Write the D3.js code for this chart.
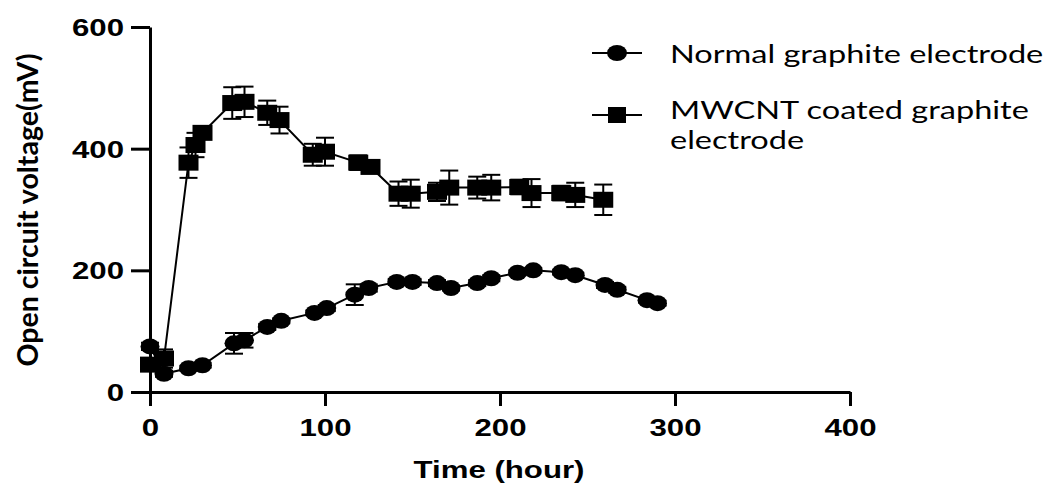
<!DOCTYPE html>
<html>
<head>
<meta charset="utf-8">
<script src="https://cdn.jsdelivr.net/npm/d3@7"></script>
<style>
body { margin: 0; background: #fff; }
</style>
</head>
<body>
<script>
// values
var xTicks = [0, 100, 200, 300, 400];
var yTicks = [0, 200, 400, 600];

var normalTime = [0, 8, 22, 30, 48, 54, 67, 75, 94, 101, 117, 125, 141, 150, 164, 172, 187, 195, 210, 219, 235, 243, 260, 267, 284, 290];
var normalOCV  = [75, 30, 39, 44, 80, 85, 107, 117, 130, 138, 160, 171, 181, 181, 179, 171, 179, 187, 196, 200, 197, 192, 176, 168, 151, 146];
var normalErr  = [6, 5, 4, 4, 17, 12, 5, 4, 4, 5, 17, 6, 5, 5, 5, 4, 5, 5, 4, 4, 4, 4, 5, 5, 4, 4];

var mwcntTime = [0, 8, 22, 26, 30, 47, 54, 67, 74, 93, 100, 119, 126, 142, 149, 164, 171, 187, 195, 211, 218, 235, 243, 259];
var mwcntOCV  = [45, 55, 377, 406, 426, 475, 477, 459, 447, 390, 395, 377, 370, 326, 326, 329, 336, 336, 336, 337, 327, 327, 324, 316];
var mwcntErr  = [10, 15, 25, 20, 8, 26, 25, 20, 22, 18, 23, 12, 10, 20, 23, 15, 28, 18, 21, 12, 23, 12, 20, 25];

var seriesNames = ["Normal graphite electrode", "MWCNT coated graphite electrode"];

var width = 1054, height = 486;
var stretch = 1.3; // the picture is wider than tall, text included
var svg = d3.select("body").append("svg")
    .attr("width", width)
    .attr("height", height)
    .style("font-family", "'Liberation Sans', Arial, sans-serif");

var x = d3.scaleLinear().domain([0, 400]).range([150, 850]);
var y = d3.scaleLinear().domain([0, 600]).range([392, 27]);

function toPoints(t, v, e) {
    return t.map(function(d, i) { return {t: d, v: v[i], e: e[i]}; });
}
var normal = toPoints(normalTime, normalOCV, normalErr);
var mwcnt = toPoints(mwcntTime, mwcntOCV, mwcntErr);

// axes
var gx = svg.append("g").attr("transform", "translate(0,392)")
    .call(d3.axisBottom(x).tickValues(xTicks).tickSize(14).tickSizeOuter(0).tickPadding(13));
var gy = svg.append("g").attr("transform", "translate(150,0)")
    .call(d3.axisLeft(y).tickValues(yTicks).tickSize(19).tickSizeOuter(0).tickPadding(7));
[gx, gy].forEach(function(g) {
    g.select(".domain").attr("stroke", "#000").attr("stroke-width", 3);
    g.selectAll(".tick line").attr("stroke", "#000").attr("stroke-width", 3);
    g.selectAll(".tick text").attr("fill", "#000")
        .style("font-size", "24px").style("font-weight", "bold")
        .style("font-family", "'Liberation Sans', Arial, sans-serif");
});
gx.selectAll(".tick text").each(function() {
    var t = d3.select(this), ty = +t.attr("y");
    t.attr("y", 0).attr("transform", "translate(0," + ty + ") scale(" + stretch + ",1)");
});
gy.selectAll(".tick text").each(function() {
    var t = d3.select(this), tx = +t.attr("x");
    t.attr("x", 0).attr("dy", "0.36em").attr("transform", "translate(" + tx + ",0) scale(" + stretch + ",1)");
});

// titles
svg.append("text")
    .attr("transform", "translate(499,478) scale(" + stretch + ",1)")
    .attr("text-anchor", "middle")
    .style("font-size", "24px").style("font-weight", "bold")
    .text("Time (hour)");

svg.append("text")
    .attr("transform", "translate(38,210) rotate(-90)")
    .attr("text-anchor", "middle")
    .style("font-family", "Lato, 'Open Sans', sans-serif")
    .style("font-size", "28.5px").style("font-weight", "bold")
    .text("Open circuit voltage(mV)");

var line = d3.line().x(function(d) { return x(d.t); }).y(function(d) { return y(d.v); });

function drawSeries(data, shape) {
    var g = svg.append("g");
    g.append("path").datum(data)
        .attr("d", line)
        .attr("fill", "none").attr("stroke", "#000").attr("stroke-width", 2);
    var eb = g.selectAll(".eb").data(data).enter().append("g");
    eb.append("line")
        .attr("x1", function(d) { return x(d.t); }).attr("x2", function(d) { return x(d.t); })
        .attr("y1", function(d) { return y(d.v - d.e); }).attr("y2", function(d) { return y(d.v + d.e); })
        .attr("stroke", "#000").attr("stroke-width", 2);
    [1, -1].forEach(function(s) {
        eb.append("line")
            .attr("x1", function(d) { return x(d.t) - 9; }).attr("x2", function(d) { return x(d.t) + 9; })
            .attr("y1", function(d) { return y(d.v + s * d.e); }).attr("y2", function(d) { return y(d.v + s * d.e); })
            .attr("stroke", "#000").attr("stroke-width", 2);
    });
    if (shape == "circle") {
        g.selectAll(".m").data(data).enter().append("ellipse")
            .attr("cx", function(d) { return x(d.t); })
            .attr("cy", function(d) { return y(d.v); })
            .attr("rx", 9.5).attr("ry", 8)
            .attr("fill", "#000");
    } else {
        g.selectAll(".m").data(data).enter().append("rect")
            .attr("x", function(d) { return x(d.t) - 10; })
            .attr("y", function(d) { return y(d.v) - 8; })
            .attr("width", 20).attr("height", 16)
            .attr("fill", "#000");
    }
}
drawSeries(normal, "circle");
drawSeries(mwcnt, "square");

// legend
var leg = svg.append("g").style("font-family", "Lato, 'Open Sans', sans-serif").style("font-size", "25px");
leg.append("line").attr("x1", 592).attr("x2", 642).attr("y1", 53).attr("y2", 53)
    .attr("stroke", "#000").attr("stroke-width", 2);
leg.append("ellipse").attr("cx", 617).attr("cy", 53).attr("rx", 10).attr("ry", 8).attr("fill", "#000");
leg.append("text").attr("transform", "translate(670,63) scale(" + stretch + ",1)")
    .text(seriesNames[0]);

leg.append("line").attr("x1", 592).attr("x2", 642).attr("y1", 115).attr("y2", 115)
    .attr("stroke", "#000").attr("stroke-width", 2);
leg.append("rect").attr("x", 608).attr("y", 107).attr("width", 18).attr("height", 16).attr("fill", "#000");
var t2 = leg.append("text").attr("transform", "translate(670,119) scale(" + stretch + ",1)");
t2.append("tspan").attr("x", 0).text("MWCNT coated graphite");
t2.append("tspan").attr("x", 0).attr("dy", 30).text("electrode");
</script>
</body>
</html>
